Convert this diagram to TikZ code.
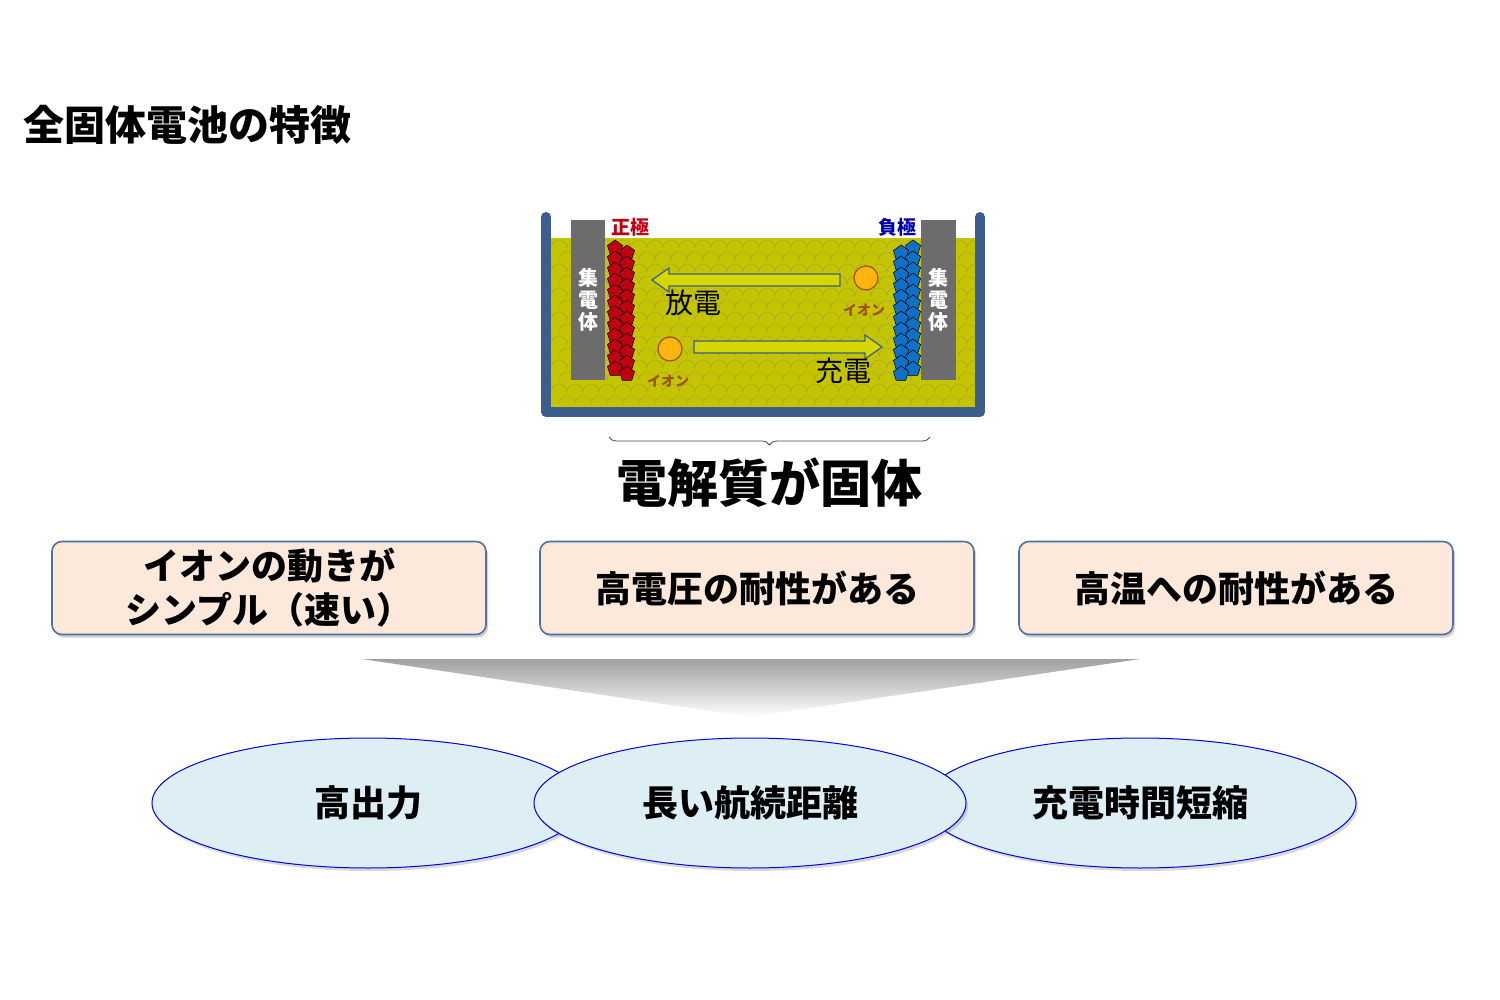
\documentclass[tikz,border=0pt]{standalone}
\usepackage{fontspec}
\newfontfamily\jp{Noto Sans CJK JP}
\usetikzlibrary{shapes.geometric,decorations.pathreplacing,shadows}
\definecolor{wall}{HTML}{3B5E8C}
\definecolor{olive}{HTML}{C4C400}
\definecolor{oliveline}{HTML}{A8A830}
\definecolor{boxfill}{HTML}{FCE9DB}
\definecolor{boxline}{HTML}{50709F}
\definecolor{ellfill}{HTML}{DDEEF4}
\definecolor{ionfill}{HTML}{FFB510}
\definecolor{ionline}{HTML}{A0501A}
\definecolor{redel}{HTML}{C00010}
\definecolor{blueel}{HTML}{1070C8}
\begin{document}
\begin{tikzpicture}[x=1pt,y=-1pt,
  box/.style={draw=boxline,line width=1.6pt,fill=boxfill,rounded corners=10pt,minimum width=434pt,minimum height=93pt,drop shadow={shadow xshift=2pt,shadow yshift=-3pt,opacity=.35}},
  ell/.style={ellipse,draw=blue!85!black,line width=1pt,fill=ellfill,minimum width=432pt,minimum height=130pt,drop shadow={shadow xshift=2pt,shadow yshift=-3pt,opacity=.3}},
  btxt/.style={font=\jp\bfseries\fontsize{36}{44}\selectfont,align=center},
  ion/.style={circle,draw=ionline,line width=1.2pt,fill=ionfill,minimum size=24pt,inner sep=0pt},
  iontxt/.style={font=\jp\bfseries\fontsize{14}{15}\selectfont,text=ionline},
  coll/.style={fill=gray!85!black,draw=none},
  colltxt/.style={font=\jp\bfseries\fontsize{20}{22}\selectfont,text=white,align=center},
  arr/.style={draw=wall,line width=1.2pt,fill=olive!70!yellow}]
\useasboundingbox (0,0) rectangle (1500,1000);
\fill[white] (0,0) rectangle (1500,1000);
\node[font=\jp\bfseries\fontsize{41}{48}\selectfont,anchor=west] (title) at (20,125) {全固体電池の特徴};
% electrolyte
\fill[olive] (551,238) rectangle (975,407);
\begin{scope}
\clip (551,238) rectangle (975,407);
\foreach \r in {0,...,14}{
  \foreach \c in {0,...,27}{
    \pgfmathsetmacro{\xx}{551+\c*16+mod(\r,2)*8}
    \pgfmathsetmacro{\yy}{240+\r*12}
    \draw[oliveline,line width=0.5pt] (\xx,\yy+8) arc[start angle=180,end angle=0,radius=8pt];
  }
}
\end{scope}
% container
\draw[wall,line width=10pt,line cap=round,line join=round] (546,217) -- (546,412) -- (980,412) -- (980,217);
% collectors
\fill[coll] (571,220) rectangle (605,380);
\fill[coll] (921,220) rectangle (956,380);
\node[colltxt] (c1) at (588,300) {集\\電\\体};
\node[colltxt] (c2) at (938,300) {集\\電\\体};
% electrodes
\foreach \i in {0,...,11}{
  \pgfmathsetmacro{\yy}{248+\i*11}
  \node[regular polygon,regular polygon sides=5,fill=redel,draw=black,line width=0.5pt,minimum size=16pt,inner sep=0pt] at (615,\yy) {};
  \node[regular polygon,regular polygon sides=5,fill=redel,draw=black,line width=0.5pt,minimum size=16pt,inner sep=0pt] at (627,\yy+5) {};
  \node[regular polygon,regular polygon sides=5,fill=blueel,draw=black,line width=0.5pt,minimum size=16pt,inner sep=0pt] at (913,\yy) {};
  \node[regular polygon,regular polygon sides=5,fill=blueel,draw=black,line width=0.5pt,minimum size=16pt,inner sep=0pt] at (901,\yy+5) {};
}
\node[font=\jp\bfseries\fontsize{19}{20}\selectfont,text=redel] (pos) at (630,227) {正極};
\node[font=\jp\bfseries\fontsize{19}{20}\selectfont,text=blue!70!black] (neg) at (897,227) {負極};
% arrows
\draw[arr] (840,274) -- (669,274) -- (669,268) -- (652,280) -- (669,292) -- (669,286) -- (840,286) -- cycle;
\draw[arr] (694,341) -- (865,341) -- (865,335) -- (882,347) -- (865,359) -- (865,353) -- (694,353) -- cycle;
\node[font=\jp\fontsize{28}{30}\selectfont] (dis) at (693,303) {放電};
\node[font=\jp\fontsize{28}{30}\selectfont] (chg) at (843,371) {充電};
\node[ion] (i1) at (866,278) {};
\node[iontxt] (t1) at (864,310) {イオン};
\node[ion] (i2) at (670,349) {};
\node[iontxt] (t2) at (668,381) {イオン};
% brace
\coordinate (bl) at (609,437);
\coordinate (br) at (930,437);
\draw[gray!60!black,line width=0.8pt,decorate,decoration={brace,amplitude=8pt,mirror}] (bl) -- (br);
\node[font=\jp\bfseries\fontsize{51}{58}\selectfont] (solid) at (769,483) {電解質が固体};
% boxes
\node[box,btxt] (b1) at (269,588) {イオンの動きが\\シンプル（速い）};
\node[box,btxt] (b2) at (757,588) {高電圧の耐性がある};
\node[box,btxt] (b3) at (1236,588) {高温への耐性がある};
% funnel
\shade[top color=gray!75,bottom color=white] (362,659) -- (1140,659) -- (750,717) -- cycle;
% ellipses
\node[ell] (e1) at (368,803) {};
\node[ell] (e3) at (1140,803) {};
\node[ell] (e2) at (750,803) {};
\node[btxt] at (e1) {高出力};
\node[btxt] at (e2) {長い航続距離};
\node[btxt] at (e3) {充電時間短縮};
\end{tikzpicture}
\end{document}
